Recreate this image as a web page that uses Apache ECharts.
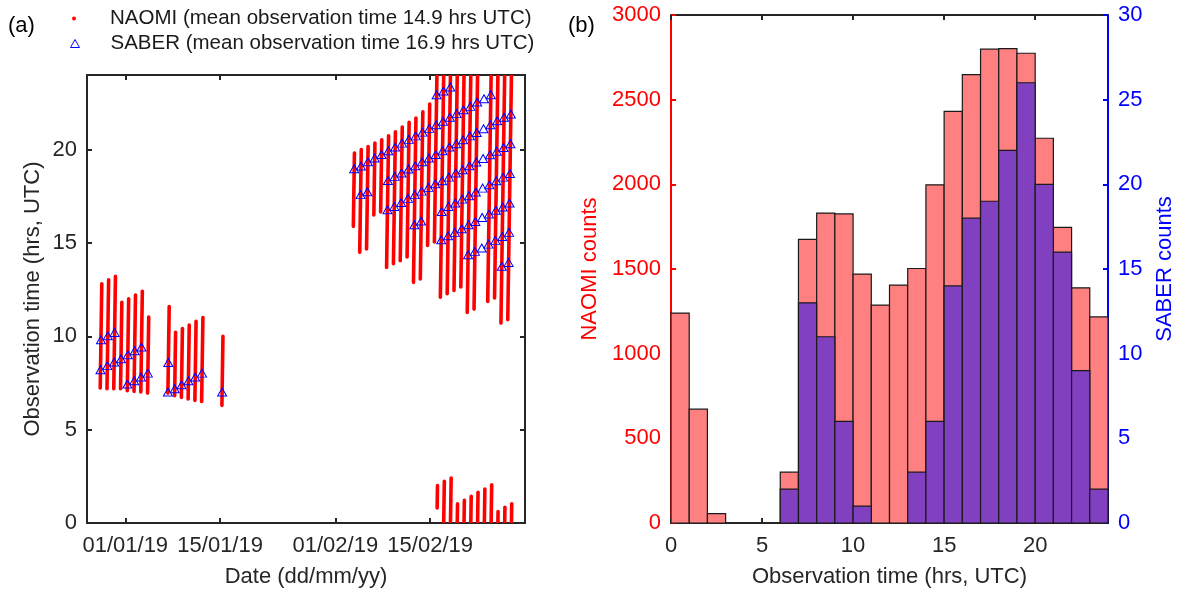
<!DOCTYPE html>
<html><head><meta charset="utf-8">
<script src="https://cdn.jsdelivr.net/npm/echarts@6/dist/echarts.min.js"></script>
<style>html,body{margin:0;padding:0;background:#fff}#c{width:1181px;height:595px}</style>
</head><body><div id="c"></div>
<script>
const FONT = '"Liberation Sans", Arial, Helvetica, sans-serif';
const TXT = '#262626';

// ---------- panel (a): days counted from 01/01/2019 ----------
const NAOMI_NAME = 'NAOMI (mean observation time 14.9 hrs UTC)';
const SABER_NAME = 'SABER (mean observation time 16.9 hrs UTC)';
const naomiDay   = [-4,-3,-2,-1,0,1,2,3, 6,7,8,9,10,11, 14,
  33,34,35,36,37,38,39,40,41,42,43,44,45,46,47,48,49,50,51,53,54,55,56,
  46,47,48,49,50,51,52,53,54,55,56,57];
const naomiStart = [7.23,7.19,7.19,7.19,7.09,7.05,7.02,6.96, 6.96,6.82,6.73,6.64,6.57,6.51, 6.30,
  15.89,14.50,14.68,16.50,16.66,13.69,13.89,14.05,14.25,12.89,13.07,14.87,15.05,12.10,12.28,12.46,12.64,11.28,11.46,11.87,12.05,10.71,10.89,
  0.80,0,0,0,0,0,0,0,0,0,0,0];
const naomiEnd   = [12.82,13.03,13.21,11.82,12.01,12.21,12.41,11.03, 11.60,10.21,10.42,10.60,10.80,11.01, 10.00,
  19.82,20.00,20.17,20.35,20.53,20.74,20.96,21.21,21.46,21.69,22.03,22.44,24,24,24,24,24,24,24,24,24,24,24,
  2.00,2.23,2.41,1.03,1.21,1.43,1.64,1.82,2.04,0.62,0.84,1.03];

const saberDay = [-4,-3,-2, -4,-3,-2,-1,0,1,2, 0,1,2,3,
  6,6,7,8,9,10,11, 14,
  33,34,35,36,37,38,39,40,41,42,43,44,45,46,47,48,49,50,51,52,53,
  45,46,47,
  34,35,
  38,39,40,41,42,43,44,45,46,47,48,49,50,51,52,53,54,55,56,
  38,39,40,41,42,43,44,45,46,47,48,49,50,51,52,53,54,55,56,
  42,43,
  46,47,48,49,50,51,52,53,54,55,56,
  46,47,48,49,50,51,52,53,54,55,56,
  50,51,52,53,54,55,56,
  55,56];
const saberHour = [9.82,10.03,10.21, 8.21,8.43,8.62,8.80,9.01,9.23,9.43, 7.45,7.62,7.82,8.03,
  8.60,7.02,7.19,7.41,7.62,7.82,8.03, 7.02,
  18.98,19.12,19.35,19.55,19.74,19.94,20.14,20.35,20.55,20.74,20.94,21.14,21.33,21.52,21.74,21.93,22.14,22.32,22.55,22.73,22.94,
  22.94,23.14,23.36,
  17.59,17.75,
  18.35,18.57,18.75,18.96,19.14,19.35,19.55,19.74,19.94,20.14,20.32,20.53,20.74,20.92,21.12,21.33,21.55,21.74,21.91,
  16.78,16.96,17.17,17.39,17.59,17.78,17.98,18.17,18.33,18.53,18.75,18.92,19.14,19.34,19.53,19.73,19.92,20.12,20.32,
  15.98,16.18,
  16.69,16.96,17.14,17.35,17.53,17.73,17.94,18.12,18.33,18.53,18.72,
  15.17,15.39,15.57,15.76,15.98,16.15,16.37,16.55,16.75,16.93,17.14,
  14.37,14.55,14.73,14.94,15.14,15.35,15.57,
  13.75,13.96];

const dateTickDays = [0, 14, 31, 45];
const hourTicksA = [0, 5, 10, 15, 20];

// ---------- panel (b): hourly histogram ----------
const binStart = [0,1,2,3,4,5,6,7,8,9,10,11,12,13,14,15,16,17,18,19,20,21,22,23];
const naomiCounts = [1240,672,55,0,0,0,300,1675,1830,1825,1470,1287,1405,1503,1997,2431,2648,2798,2802,2774,2272,1746,1389,1217];
const saberCounts = [0,0,0,0,0,0,2,13,11,6,1,0,0,3,6,14,18,19,22,26,20,16,9,2];
const hourTicksB = [0, 5, 10, 15, 20];

const DAY0 = Date.UTC(2019, 0, 1);
function fmtDate(v) {
  const d = new Date(DAY0 + Math.round(v) * 86400000);
  const p = n => String(n).padStart(2, '0');
  return p(d.getUTCDate()) + '/' + p(d.getUTCMonth() + 1) + '/' + p(d.getUTCFullYear() % 100);
}
const plain = v => String(v);

const chart = echarts.init(document.getElementById('c'), null, {renderer: 'canvas'});

const axLine = (c) => ({show: true, onZero: false, lineStyle: {color: c, width: 2}});
const axTick = (c, vals) => Object.assign({show: true, inside: true, length: 5, lineStyle: {color: c, width: 2}}, vals ? {customValues: vals} : {});
const lbl = (c, extra) => Object.assign({color: c, fontSize: 22, fontFamily: FONT, formatter: plain}, extra || {});
const nameTS = (c) => ({color: c, fontSize: 22, fontFamily: FONT});

const segData = naomiDay.map((d, i) => [d, naomiStart[i], naomiEnd[i]]);
const saberData = saberDay.map((d, i) => [d + saberHour[i] / 24, saberHour[i]]);

function segRender(params, api) {
  const d = api.value(0), lo = api.value(1), hi = api.value(2);
  const p1 = api.coord([d + lo / 24, lo]);
  const p2 = api.coord([d + hi / 24, hi]);
  return {type: 'line', shape: {x1: p1[0], y1: p1[1], x2: p2[0], y2: p2[1]},
    style: {stroke: '#ff0000', lineWidth: 3.6, lineCap: 'round'}};
}
function barRender(fill) {
  return function (params, api) {
    const x0 = api.value(0), v = api.value(1);
    if (!v) return null;
    const a = api.coord([x0, v]);
    const b = api.coord([x0 + 1, 0]);
    return {type: 'rect', shape: {x: a[0], y: a[1], width: b[0] - a[0], height: b[1] - a[1]},
      style: {fill: fill, stroke: '#1a1a1a', lineWidth: 1.2}};
  };
}

const option = {
  animation: false,
  backgroundColor: '#fff',
  textStyle: {fontFamily: FONT},
  title: [
    {text: '(a)', left: 3, top: 10, textStyle: {fontSize: 22, fontWeight: 'normal', color: '#000', fontFamily: FONT}},
    {text: '(b)', left: 563, top: 10, textStyle: {fontSize: 22, fontWeight: 'normal', color: '#000', fontFamily: FONT}}
  ],
  legend: [
    {data: [{name: NAOMI_NAME, icon: 'circle', itemStyle: {color: '#ff0000'}}],
     left: 72, top: 8, padding: 0, itemWidth: 4, itemHeight: 4, selectedMode: false,
     textStyle: {fontSize: 20.5, color: '#1a1a1a', fontFamily: FONT, padding: [0, 0, 0, 29]}},
    {data: [{name: SABER_NAME, icon: 'triangle', itemStyle: {color: 'rgba(0,0,0,0)', borderColor: '#0000ff', borderWidth: 1}}],
     left: 70, top: 33, padding: 0, itemWidth: 9, itemHeight: 8, selectedMode: false,
     textStyle: {fontSize: 20.5, color: '#1a1a1a', fontFamily: FONT, padding: [0, 0, 0, 26]}}
  ],
  grid: [
    {left: 87, top: 75, width: 438, height: 448},
    {left: 671, top: 15, width: 437, height: 508}
  ],
  xAxis: [
    {gridIndex: 0, type: 'value', min: -5.65, max: 59, position: 'bottom',
     axisLine: axLine(TXT), axisTick: axTick(TXT, dateTickDays),
     axisLabel: lbl(TXT, {customValues: dateTickDays, formatter: fmtDate, margin: 12}),
     splitLine: {show: false},
     name: 'Date (dd/mm/yy)', nameLocation: 'middle', nameGap: 43, nameTextStyle: nameTS(TXT)},
    {gridIndex: 0, type: 'value', min: -5.65, max: 59, position: 'top',
     axisLine: axLine(TXT), axisTick: axTick(TXT, dateTickDays),
     axisLabel: {show: false}, splitLine: {show: false}},
    {gridIndex: 1, type: 'value', min: 0, max: 24, position: 'bottom',
     axisLine: axLine(TXT), axisTick: axTick(TXT, hourTicksB),
     axisLabel: lbl(TXT, {customValues: hourTicksB, margin: 12}),
     splitLine: {show: false},
     name: 'Observation time (hrs, UTC)', nameLocation: 'middle', nameGap: 43, nameTextStyle: nameTS(TXT)},
    {gridIndex: 1, type: 'value', min: 0, max: 24, position: 'top',
     axisLine: axLine(TXT), axisTick: axTick(TXT, hourTicksB),
     axisLabel: {show: false}, splitLine: {show: false}}
  ],
  yAxis: [
    {gridIndex: 0, type: 'value', min: 0, max: 24, position: 'left',
     axisLine: axLine(TXT), axisTick: axTick(TXT, hourTicksA),
     axisLabel: lbl(TXT, {customValues: hourTicksA, margin: 10}),
     splitLine: {show: false},
     name: 'Observation time (hrs, UTC)', nameLocation: 'middle', nameGap: 43, nameTextStyle: nameTS(TXT)},
    {gridIndex: 0, type: 'value', min: 0, max: 24, position: 'right',
     axisLine: axLine(TXT), axisTick: axTick(TXT, hourTicksA),
     axisLabel: {show: false}, splitLine: {show: false}},
    {gridIndex: 1, type: 'value', min: 0, max: 3000, interval: 500, position: 'left',
     axisLine: axLine('#ff0000'), axisTick: axTick('#ff0000'),
     axisLabel: lbl('#ff0000', {margin: 10}), splitLine: {show: false},
     name: 'NAOMI counts', nameLocation: 'middle', nameGap: 70, nameTextStyle: nameTS('#ff0000')},
    {gridIndex: 1, type: 'value', min: 0, max: 30, interval: 5, position: 'right',
     axisLine: axLine('#0000ff'), axisTick: axTick('#0000ff'),
     axisLabel: lbl('#0000ff', {margin: 10}), splitLine: {show: false},
     name: 'SABER counts', nameLocation: 'middle', nameGap: 46, nameTextStyle: nameTS('#0000ff')}
  ],
  series: [
    {name: NAOMI_NAME, type: 'custom', xAxisIndex: 0, yAxisIndex: 0, clip: true,
     itemStyle: {color: '#ff0000'}, encode: {x: 0, y: [1, 2]},
     renderItem: segRender, data: segData, z: 2},
    {name: SABER_NAME, type: 'scatter', xAxisIndex: 0, yAxisIndex: 0,
     symbol: 'triangle', symbolSize: [9, 8],
     itemStyle: {color: 'rgba(0,0,0,0)', borderColor: '#0000ff', borderWidth: 1, opacity: 1},
     data: saberData, z: 3},
    {name: 'NAOMI counts', type: 'custom', xAxisIndex: 2, yAxisIndex: 2,
     renderItem: barRender('#ff8080'), encode: {x: 0, y: 1},
     data: binStart.map((b, i) => [b, naomiCounts[i]]), z: 2},
    {name: 'SABER counts', type: 'custom', xAxisIndex: 2, yAxisIndex: 3,
     renderItem: barRender('#8040c0'), encode: {x: 0, y: 1},
     data: binStart.map((b, i) => [b, saberCounts[i]]), z: 3}
  ]
};
chart.setOption(option);
</script></body></html>
